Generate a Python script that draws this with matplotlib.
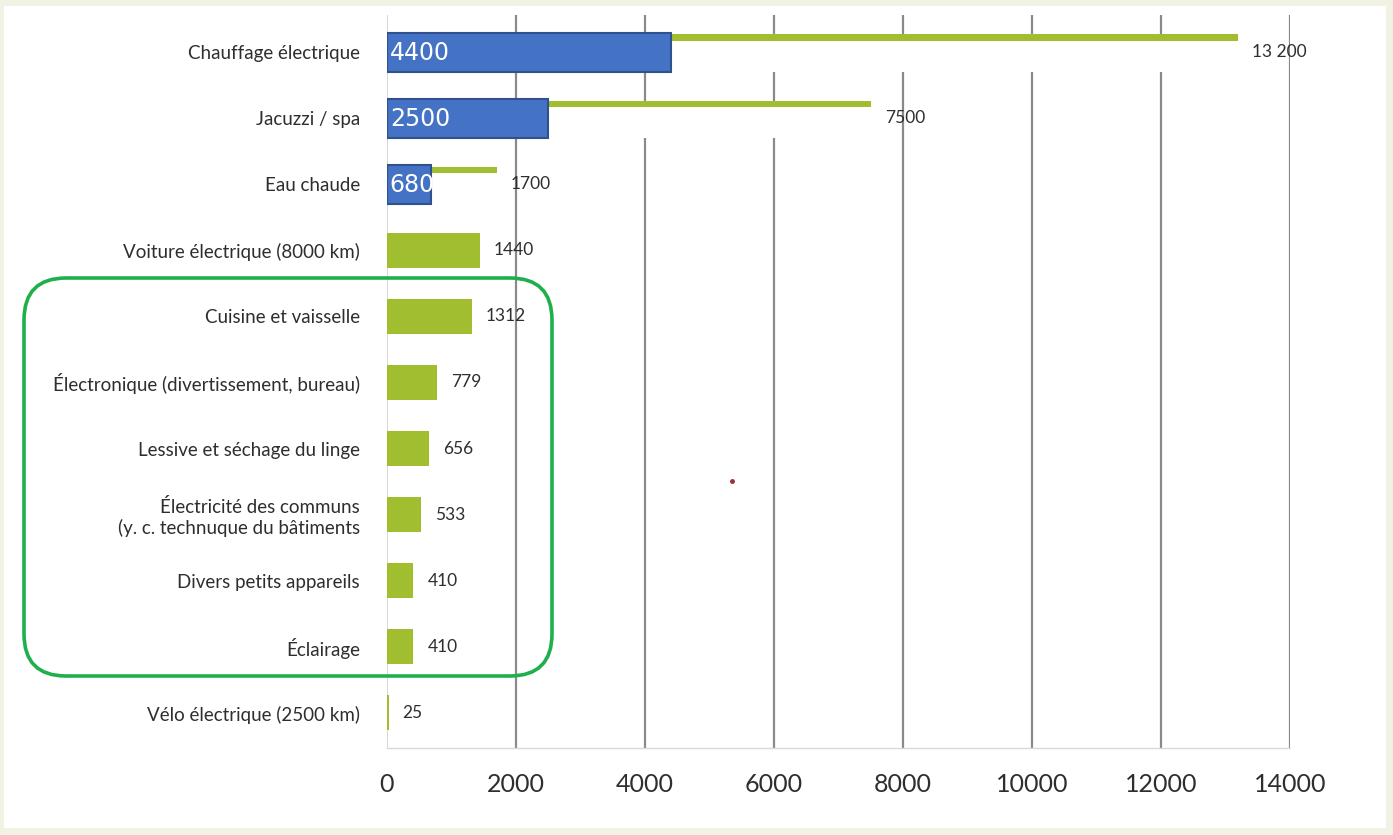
import matplotlib
matplotlib.use('Agg')
import matplotlib.pyplot as plt
from matplotlib.patches import FancyBboxPatch, Rectangle
from matplotlib.lines import Line2D
import numpy as np

categories = [
    "Chauffage électrique",
    "Jacuzzi / spa",
    "Eau chaude",
    "Voiture électrique (8000 km)",
    "Cuisine et vaisselle",
    "Électronique (divertissement, bureau)",
    "Lessive et séchage du linge",
    "Électricité des communs\n(y. c. technuque du bâtiments",
    "Divers petits appareils",
    "Éclairage",
    "Vélo électrique (2500 km)",
]
values = [13200, 7500, 1700, 1440, 1312, 779, 656, 533, 410, 410, 25]
value_labels = ["13 200", "7500", "1700", "1440", "1312", "779", "656", "533", "410", "410", "25"]
overlay_values = [4400, 2500, 680]
overlay_labels = ["4400", "2500", "680"]
xticks = [0, 2000, 4000, 6000, 8000, 10000, 12000, 14000]

GREEN = '#a0be30'
BLUE = '#4472c4'
BLUE_EDGE = '#2f528f'
TXT = '#2e2e2e'
FONT = 'Lato'

W, H = 1393, 835
fig = plt.figure(figsize=(W / 100, H / 100), dpi=100, facecolor='#f2f2e4')
fig.add_artist(Rectangle((4 / W, 7 / H), (1386 - 4) / W, (829 - 7) / H,
                         transform=fig.transFigure, facecolor='white',
                         edgecolor='none', zorder=-10))

ax = fig.add_axes([387 / W, 87 / H, 903 / W, 733 / H])
ax.set_facecolor('none')
ax.set_xlim(0, 14000)
ax.set_ylim(10.53, -0.56)

y = np.arange(len(categories))

# grid lines
for xv in xticks[1:]:
    ax.axvline(xv, color='#8a8a8a', lw=1.6, zorder=1)
ax.axvline(0, color='#d0d0d0', lw=1.2, zorder=1.5)

# green bars
bh = 0.53
ax.barh(y, values, height=bh, color=GREEN, zorder=2)

# white masks on the top three bars (leave a thin green line on top)
n_ov = len(overlay_values)
off = 0.1
wh = 0.465
ax.barh(y[:n_ov] - bh / 2 + off + wh / 2, np.array(values[:n_ov]) + 110,
        height=wh, color='white', zorder=3)

# blue overlay bars
ax.barh(y[:n_ov] + 0.01, overlay_values, height=0.59, color=BLUE,
        edgecolor=BLUE_EDGE, linewidth=1.5, zorder=4)
for yi, lab in zip(y[:n_ov], overlay_labels):
    ax.annotate(lab, (0, yi + 0.01), xytext=(2, 0), textcoords='offset points',
                ha='left', va='center', color='white', fontsize=17,
                family='DejaVu Sans', zorder=5)

# value labels
for yi, v, lab in zip(y, values, value_labels):
    ax.annotate(lab, (v, yi), xytext=(10, 0), textcoords='offset points',
                ha='left', va='center', color=TXT, fontsize=12.5,
                family=FONT, zorder=5)

ax.set_yticks(y)
ax.set_yticklabels(categories, fontsize=13.5, family=FONT, color=TXT)
ax.set_xticks(xticks)
ax.set_xticklabels([str(t) for t in xticks], fontsize=18, family=FONT, color=TXT)
ax.tick_params(axis='y', length=0, pad=19.5)
ax.tick_params(axis='x', length=0, pad=18)

for s in ['top', 'right', 'left']:
    ax.spines[s].set_visible(False)
ax.spines['bottom'].set_color('#d9d9d9')
ax.spines['bottom'].set_linewidth(1.0)

# highlight rounded box
fig.add_artist(FancyBboxPatch((0.24, (H - 676) / 100), 5.28, 3.98,
                              boxstyle='round,pad=0,rounding_size=0.42',
                              transform=fig.dpi_scale_trans, fill=False,
                              edgecolor='#1fb04b', linewidth=2.6, zorder=10))

# stray dot
fig.add_artist(Line2D([732 / W], [1 - 481 / H], marker='o', ms=2.5,
                      color='#9b2d3f', transform=fig.transFigure))

fig.savefig('out.png', dpi=100, facecolor=fig.get_facecolor())
